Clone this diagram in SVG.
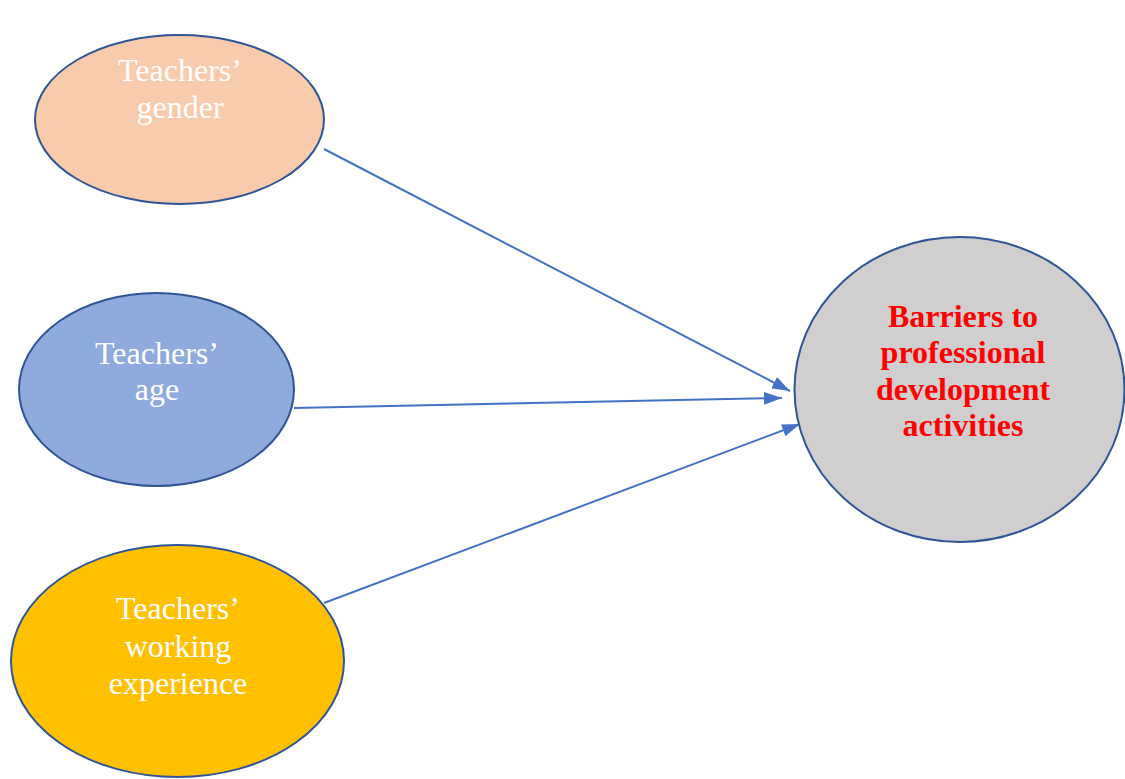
<svg xmlns="http://www.w3.org/2000/svg" width="1125" height="779" viewBox="0 0 1125 779">
<style>
.node{stroke:#2F5597;stroke-width:2}
.lbl{font-family:"Liberation Serif","Times New Roman",serif;font-size:32px;fill:#ffffff;text-anchor:middle}
.tgt{font-family:"Liberation Serif","Times New Roman",serif;font-size:32px;font-weight:bold;fill:#ff0000;text-anchor:middle}
.edge{stroke:#4472C4;stroke-width:2;fill:none;marker-end:url(#arr)}
</style>
<defs>
<marker id="arr" viewBox="0 0 10 7" refX="10" refY="3.5" markerWidth="9" markerHeight="6.3" markerUnits="strokeWidth" orient="auto">
<path d="M0,0 L10,3.5 L0,7 Z" fill="#4472C4"/>
</marker>
</defs>
<rect width="1125" height="779" fill="#ffffff"/>
<g id="connectors">
<line class="edge" x1="324" y1="149" x2="790" y2="391"/>
<line class="edge" x1="294" y1="408" x2="782" y2="398"/>
<line class="edge" x1="324" y1="603" x2="800" y2="424"/>
</g>
<g id="gender">
<ellipse class="node" cx="179.5" cy="119.5" rx="144.5" ry="84.5" fill="#F8CBAD"/>
<text class="lbl" x="180" y="81">Teachers’</text>
<text class="lbl" x="180" y="118">gender</text>
</g>
<g id="age">
<ellipse class="node" cx="156.5" cy="389.5" rx="137.5" ry="96.5" fill="#8FAADC"/>
<text class="lbl" x="157" y="364">Teachers’</text>
<text class="lbl" x="157" y="400">age</text>
</g>
<g id="experience">
<ellipse class="node" cx="177.5" cy="661" rx="166.5" ry="116" fill="#FFC000"/>
<text class="lbl" x="178" y="619">Teachers’</text>
<text class="lbl" x="178" y="657">working</text>
<text class="lbl" x="178" y="694">experience</text>
</g>
<g id="barriers">
<ellipse class="node" cx="959.5" cy="389.5" rx="165" ry="152.5" fill="#D0CECE"/>
<text class="tgt" x="963" y="327">Barriers to</text>
<text class="tgt" x="963" y="363">professional</text>
<text class="tgt" x="963" y="400">development</text>
<text class="tgt" x="963" y="436">activities</text>
</g>
</svg>
